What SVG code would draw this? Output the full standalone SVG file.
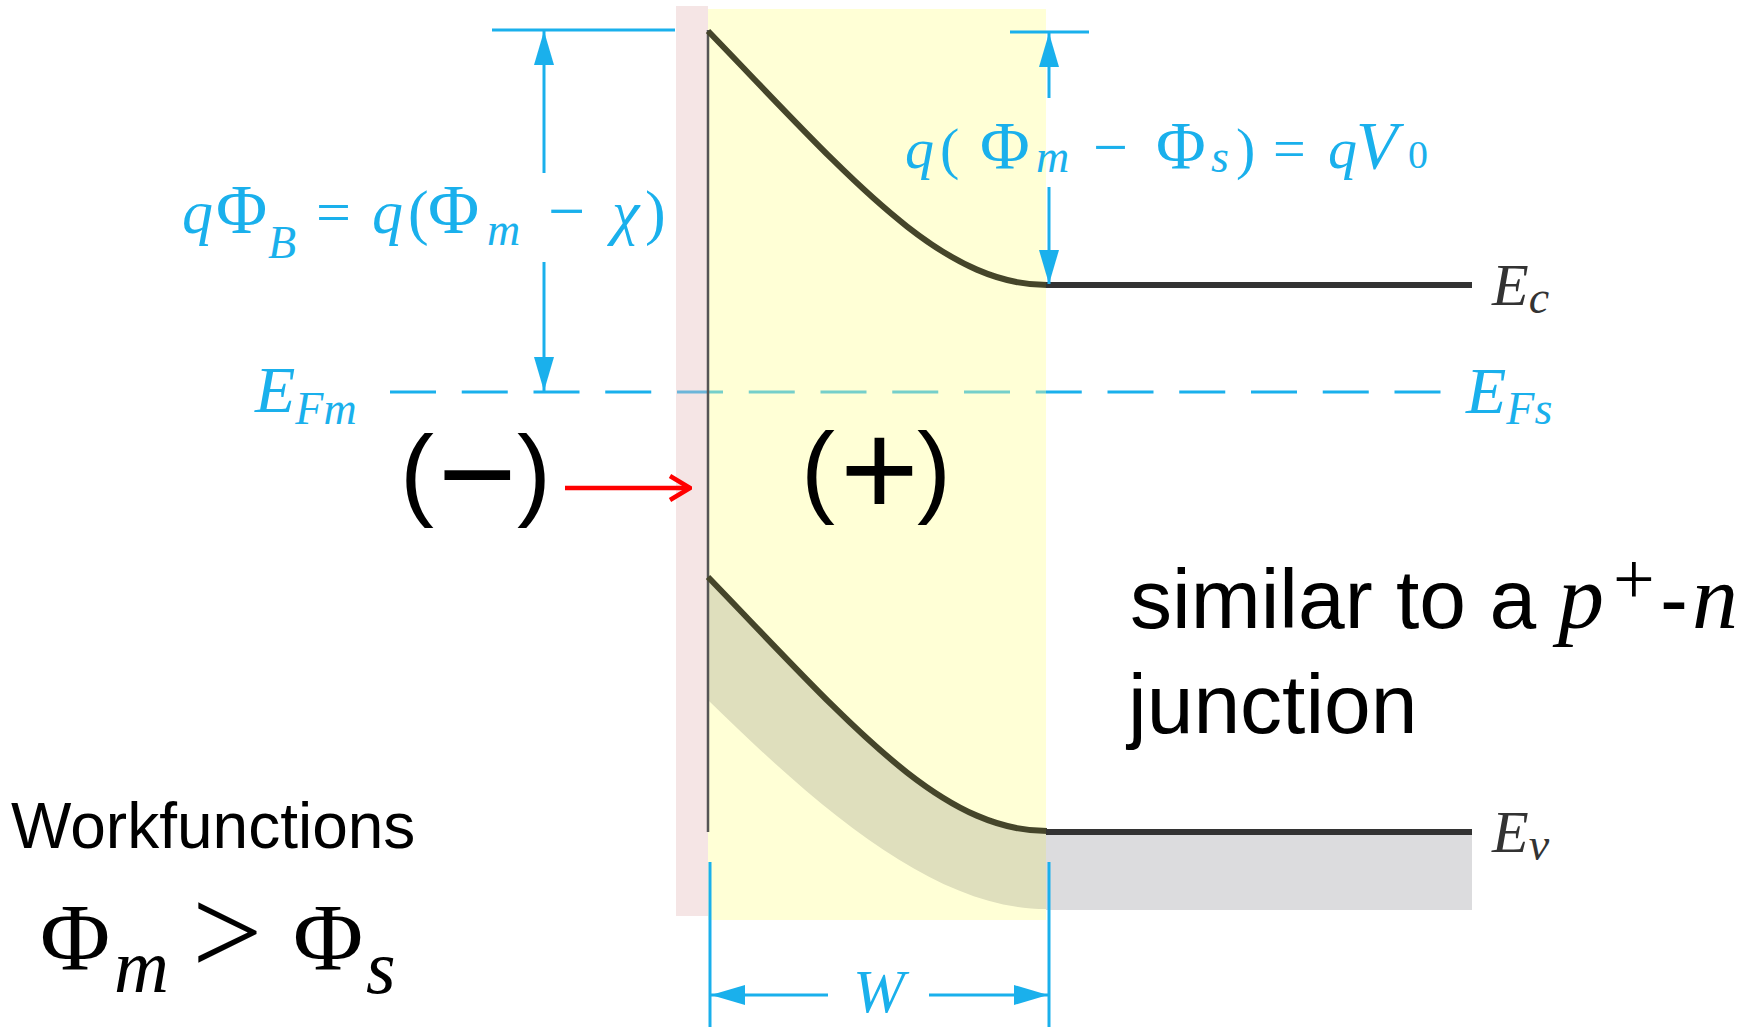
<svg xmlns="http://www.w3.org/2000/svg" width="1761" height="1027" viewBox="0 0 1761 1027">
<defs>
<style>
.cy{stroke:#1ab0ec;stroke-width:3;fill:none}
.cyt{fill:#1ab0ec;font-family:"Liberation Serif",serif}
.it{font-style:italic}
.band{stroke:#45452a;stroke-width:6;fill:none}
.lvl{stroke:#333;stroke-width:6;fill:none}
.lbl{fill:#333;font-family:"Liberation Serif",serif;font-style:italic}
.sans{fill:#000;font-family:"Liberation Sans",Arial,sans-serif}
.ser{fill:#000;font-family:"Liberation Serif",serif}
</style>
<marker id="ah" viewBox="0 0 34 20" refX="34" refY="10" markerWidth="34" markerHeight="20" markerUnits="userSpaceOnUse" orient="auto"><path d="M0,0 L34,10 L0,20 z" fill="#1ab0ec"/></marker>
<marker id="rh" viewBox="0 0 24 28" refX="22" refY="14" markerWidth="24" markerHeight="28" markerUnits="userSpaceOnUse" orient="auto"><path d="M2,2 L22,14 L2,26" fill="none" stroke="#ff0000" stroke-width="4.5"/></marker>
</defs>
<rect width="1761" height="1027" fill="#fff"/>

<g id="fermi-level">
<line x1="390" y1="392" x2="1441" y2="392" class="cy" stroke-width="4" stroke-dasharray="46 25.75"/>
</g>

<g id="regions">
<rect x="676" y="6" width="32" height="910" fill="#e6bebe" opacity="0.4"/>
<rect x="708" y="9" width="338" height="911" fill="#ffff99" opacity="0.4"/>
</g>

<g id="valence-band-fill">
<path d="M1046,831 L1472,831 L1472,910 L1046,910 Z" fill="#dcdcde"/>
<path d="M708,577 C850,724 940,831 1046,831 L1046,909 C940,909 830,820 708,700 Z" fill="#dfdfbd"/>
</g>

<g id="metal-surface">
<line x1="708" y1="30" x2="708" y2="832" stroke="#555" stroke-width="2.5"/>
</g>

<g id="conduction-band">
<path d="M708,31 C850,178 940,285 1047,285" class="band"/>
<line x1="1046" y1="285" x2="1472" y2="285" class="lvl"/>
<text class="lbl" x="1492" y="305" font-size="60">E<tspan font-size="46" dy="8">c</tspan></text>
</g>

<g id="valence-band">
<path d="M708,577 C850,724 940,831 1047,831" class="band"/>
<line x1="1046" y1="832" x2="1472" y2="832" class="lvl"/>
<text class="lbl" x="1492" y="852" font-size="60">E<tspan font-size="46" dy="8">v</tspan></text>
</g>

<g id="fermi-labels">
<text class="cyt it" x="255" y="412" font-size="66">E<tspan font-size="46" dy="12">Fm</tspan></text>
<text class="cyt it" x="1466" y="413" font-size="66">E<tspan font-size="46" dy="11">Fs</tspan></text>
</g>

<g id="connectors">
<line x1="492" y1="30" x2="675" y2="30" class="cy"/>
<line x1="544" y1="173" x2="544" y2="31" class="cy" marker-end="url(#ah)"/>
<line x1="544" y1="262" x2="544" y2="391" class="cy" marker-end="url(#ah)"/>
<line x1="1010" y1="32" x2="1089" y2="32" class="cy"/>
<line x1="1049" y1="98" x2="1049" y2="33" class="cy" marker-end="url(#ah)"/>
<line x1="1049" y1="187" x2="1049" y2="284" class="cy" marker-end="url(#ah)"/>
<line x1="710" y1="862" x2="710" y2="1027" class="cy"/>
<line x1="1049" y1="862" x2="1049" y2="1027" class="cy"/>
<line x1="828" y1="995" x2="711" y2="995" class="cy" marker-end="url(#ah)"/>
<line x1="929" y1="995" x2="1048" y2="995" class="cy" marker-end="url(#ah)"/>
<line x1="565" y1="488" x2="690" y2="488" stroke="#ff0000" stroke-width="4.5" marker-end="url(#rh)"/>
</g>

<g id="barrier-label">
<text class="cyt" y="233" font-size="62"><tspan class="it" x="182">q</tspan><tspan x="216" font-size="70">Φ</tspan><tspan class="it" x="268" y="258" font-size="46">B</tspan><tspan x="316" y="233">=</tspan><tspan class="it" x="372">q</tspan><tspan x="408">(</tspan><tspan x="428" font-size="70">Φ</tspan><tspan class="it" x="487" y="245" font-size="46">m</tspan><tspan x="548" y="233" font-size="66">−</tspan><tspan class="it" x="612">χ</tspan><tspan x="645">)</tspan></text>
</g>

<g id="builtin-label">
<text class="cyt" y="168" font-size="58"><tspan class="it" x="905">q</tspan><tspan x="940">(</tspan><tspan x="980" font-size="68">Φ</tspan><tspan class="it" x="1036" y="172" font-size="46">m</tspan><tspan x="1093" y="168" font-size="62">−</tspan><tspan x="1156" font-size="68">Φ</tspan><tspan class="it" x="1211" y="172" font-size="46">s</tspan><tspan x="1236" y="168">)</tspan><tspan x="1273">=</tspan><tspan class="it" x="1328">q</tspan><tspan class="it" x="1356" font-size="68">V</tspan><tspan x="1408" font-size="40">0</tspan></text>
</g>

<g id="charges">
<text class="sans" x="400" y="507" font-size="102">(</text>
<text class="sans" x="438" y="520" font-size="135">−</text>
<text class="sans" x="517" y="507" font-size="102">)</text>
<text class="sans" x="801" y="504" font-size="102">(</text>
<text class="sans" x="840" y="516" font-size="135">+</text>
<text class="sans" x="917" y="504" font-size="102">)</text>
</g>

<g id="width-label">
<text class="cyt it" x="853" y="1012" font-size="62">W</text>
</g>

<g id="note">
<text class="sans" y="628" font-size="84"><tspan x="1130">similar to a</tspan><tspan x="1558" font-family="Liberation Serif, serif" font-style="italic" font-size="92">p</tspan><tspan x="1613" y="604" font-family="Liberation Serif, serif" font-size="74">+</tspan><tspan x="1660" y="628">-</tspan><tspan x="1692" font-family="Liberation Serif, serif" font-style="italic" font-size="92">n</tspan></text>
<text class="sans" x="1128" y="733" font-size="84">junction</text>
</g>

<g id="workfunctions">
<text class="sans" x="11" y="848" font-size="64">Workfunctions</text>
<text class="ser" y="970" font-size="96"><tspan x="40">Φ</tspan><tspan class="it" x="114" y="992" font-size="76">m</tspan><tspan x="192" y="974" font-size="125">&gt;</tspan><tspan x="293" y="970">Φ</tspan><tspan class="it" x="366" y="993" font-size="76">s</tspan></text>
</g>
</svg>
